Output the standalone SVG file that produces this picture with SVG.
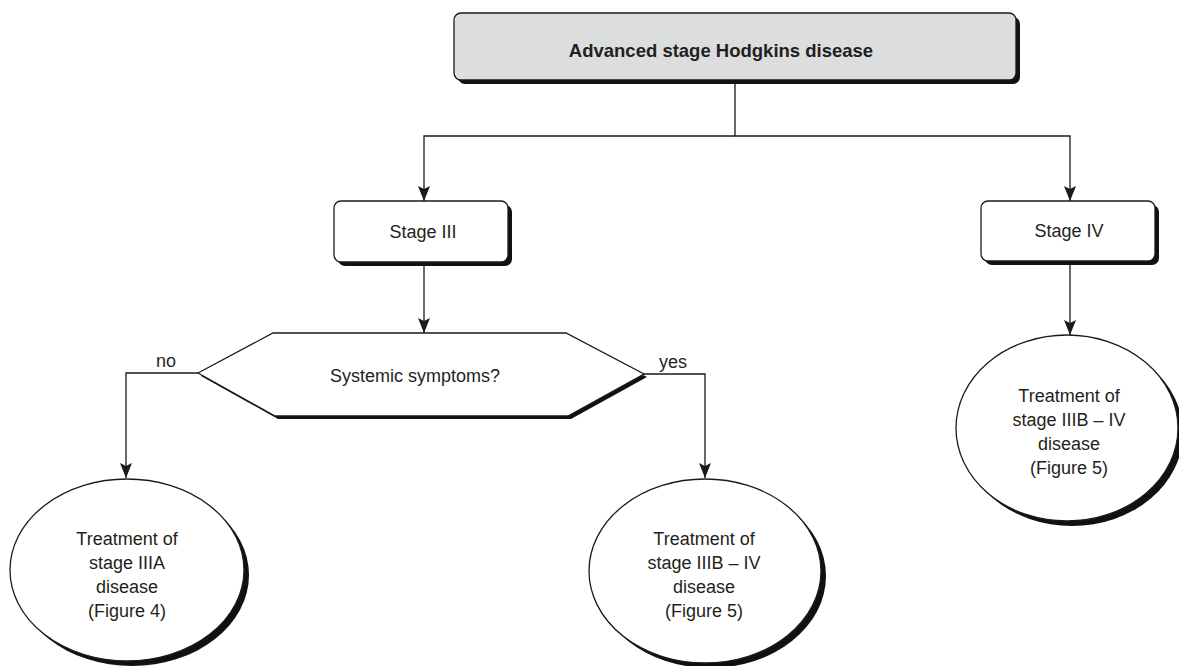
<svg xmlns="http://www.w3.org/2000/svg" width="1179" height="666" viewBox="0 0 1179 666">
<defs>
<style>
.t{font-family:"Liberation Sans",Arial,sans-serif;font-size:18px;fill:#231f20;text-anchor:middle}
.b{font-weight:bold;font-size:18.5px}
.sh{fill:#111}
.shape{fill:#fff;stroke:#1a1a1a;stroke-width:1.3}
.gray{fill:#dcdddf}
.c{fill:none;stroke:#1a1a1a;stroke-width:1.3}
</style>
<marker id="ah" markerUnits="userSpaceOnUse" markerWidth="16" markerHeight="14" refX="15" refY="7" orient="auto">
<path d="M0,1 L15,7 L0,13 L3,7 z" fill="#1a1a1a"/>
</marker>
</defs>
<rect width="1179" height="666" fill="#fff"/>
<g id="connectors">
<path class="c" d="M735,80 V136 H424 V201" marker-end="url(#ah)"/>
<path class="c" d="M735,136 H1070 V201" marker-end="url(#ah)"/>
<path class="c" d="M424,262 V333" marker-end="url(#ah)"/>
<path class="c" d="M198,373 H126 V478" marker-end="url(#ah)"/>
<path class="c" d="M644,374 H705 V478" marker-end="url(#ah)"/>
<path class="c" d="M1070,261 V335" marker-end="url(#ah)"/>
</g>
<g id="n_top">
<rect class="sh" x="458" y="17" width="562" height="67" rx="7"/>
<rect class="shape gray" x="454" y="13" width="562" height="67" rx="7"/>
<text class="t b" x="721" y="57">Advanced stage Hodgkins disease</text>
</g>
<g id="n_stage3">
<rect class="sh" x="338" y="205" width="174" height="61" rx="7"/>
<rect class="shape" x="334" y="201" width="174" height="61" rx="7"/>
<text class="t" x="423" y="238">Stage III</text>
</g>
<g id="n_stage4">
<rect class="sh" x="985" y="205" width="174" height="60" rx="7"/>
<rect class="shape" x="981" y="201" width="174" height="60" rx="7"/>
<text class="t" x="1069" y="237">Stage IV</text>
</g>
<g id="n_systemic">
<polygon class="sh" points="201,376 276,336 569,336 647,377 571,419 278,419"/>
<polygon class="shape" points="198,373 273,333 566,333 644,374 568,416 275,416"/>
<text class="t" x="415" y="382">Systemic symptoms?</text>
</g>
<g id="labels">
<text class="t" x="166" y="367">no</text>
<text class="t" x="673" y="368">yes</text>
</g>
<g id="n_iiia">
<ellipse class="sh" cx="132" cy="575" rx="117" ry="91"/>
<ellipse class="shape" cx="127" cy="570" rx="117" ry="91"/>
<text class="t" x="127" y="545">Treatment of</text>
<text class="t" x="127" y="569">stage IIIA</text>
<text class="t" x="127" y="593">disease</text>
<text class="t" x="127" y="617">(Figure 4)</text>
</g>
<g id="n_iiib_mid">
<ellipse class="sh" cx="710" cy="576" rx="116" ry="92"/>
<ellipse class="shape" cx="705" cy="571" rx="116" ry="92"/>
<text class="t" x="704" y="545">Treatment of</text>
<text class="t" x="704" y="569">stage IIIB – IV</text>
<text class="t" x="704" y="593">disease</text>
<text class="t" x="704" y="617">(Figure 5)</text>
</g>
<g id="n_iiib_right">
<ellipse class="sh" cx="1072" cy="433" rx="111" ry="93"/>
<ellipse class="shape" cx="1067" cy="428" rx="111" ry="93"/>
<text class="t" x="1069" y="402">Treatment of</text>
<text class="t" x="1069" y="426">stage IIIB – IV</text>
<text class="t" x="1069" y="450">disease</text>
<text class="t" x="1069" y="474">(Figure 5)</text>
</g>
</svg>
